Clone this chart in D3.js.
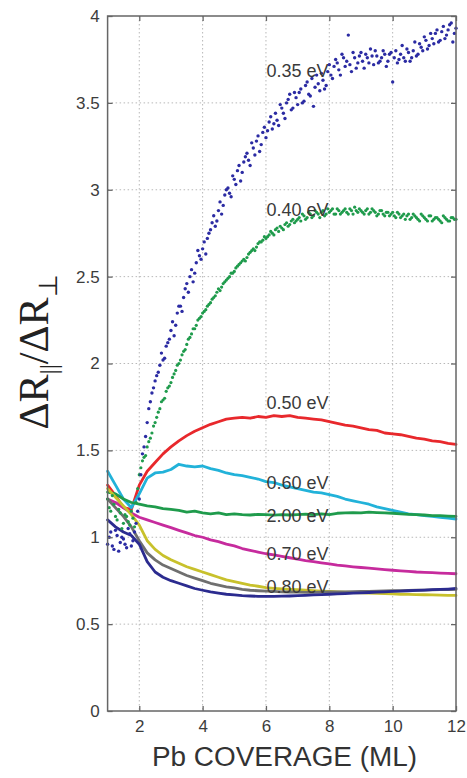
<!DOCTYPE html>
<html>
<head>
<meta charset="utf-8">
<script src="https://cdn.jsdelivr.net/npm/d3@7/dist/d3.min.js"></script>
<style>
  html, body { margin: 0; padding: 0; background: #fff; }
  svg { display: block; }
</style>
</head>
<body>
<svg id="chart" width="467" height="778"></svg>
<script>
// ---------------- DATA ----------------
const xTicks = [2, 4, 6, 8, 10, 12];
const yTicks = [0, 0.5, 1, 1.5, 2, 2.5, 3, 3.5, 4];
const yTickLabels = ["0", "0.5", "1", "1.5", "2", "2.5", "3", "3.5", "4"];

// scatter series sampled every 0.1 ML from 1 to 12 (two interleaved sweeps)
const scatterCoverage = d3.range(111).map(i => +(1 + i * 0.1).toFixed(2));
const scatterCoverageB = d3.range(110).map(i => +(1.05 + i * 0.1).toFixed(2));
const s035 = [0.96,1.03,0.93,1.01,0.97,0.99,0.94,1.02,0.98,1.08,
  1.22,1.48,1.58,1.74,1.83,1.90,1.95,2.06,2.03,2.12,
  2.19,2.16,2.29,2.33,2.38,2.46,2.50,2.47,2.58,2.62,
  2.66,2.63,2.75,2.81,2.79,2.88,2.86,2.97,3.01,2.96,
  3.06,3.11,3.05,3.16,3.21,3.14,3.24,3.28,3.22,3.33,
  3.30,3.39,3.35,3.44,3.37,3.47,3.41,3.52,3.46,3.56,
  3.49,3.58,3.51,3.62,3.54,3.48,3.66,3.57,3.63,3.60,
  3.72,3.64,3.75,3.69,3.78,3.71,3.89,3.68,3.76,3.73,
  3.79,3.70,3.76,3.81,3.72,3.77,3.74,3.80,3.71,3.78,
  3.62,3.80,3.75,3.83,3.74,3.79,3.76,3.85,3.78,3.82,
  3.88,3.81,3.90,3.84,3.92,3.86,3.94,3.89,3.95,3.85,3.93];
const s035b = [1.00,0.95,1.04,0.92,1.00,0.96,1.05,0.95,1.03,1.15,
  1.36,1.52,1.66,1.78,1.86,1.93,1.99,2.02,2.10,2.14,
  2.24,2.22,2.33,2.30,2.43,2.41,2.54,2.52,2.65,2.60,
  2.70,2.72,2.77,2.85,2.82,2.93,2.91,3.00,2.98,3.08,
  3.03,3.14,3.10,3.19,3.17,3.27,3.20,3.31,3.26,3.36,
  3.34,3.42,3.38,3.40,3.49,3.44,3.50,3.55,3.47,3.53,
  3.56,3.50,3.60,3.55,3.64,3.59,3.61,3.67,3.58,3.68,
  3.66,3.71,3.73,3.66,3.76,3.74,3.72,3.79,3.70,3.77,
  3.74,3.78,3.73,3.77,3.80,3.73,3.76,3.78,3.74,3.79,
  3.76,3.73,3.78,3.76,3.81,3.74,3.80,3.77,3.84,3.80,
  3.86,3.83,3.87,3.90,3.85,3.91,3.87,3.92,3.96,3.90];
const s040 = [1.22,1.15,1.19,1.10,1.14,1.08,1.12,1.07,1.11,1.20,
  1.36,1.44,1.47,1.55,1.60,1.66,1.72,1.78,1.80,1.86,
  1.89,1.94,1.99,2.02,2.07,2.11,2.15,2.20,2.22,2.26,
  2.29,2.31,2.34,2.37,2.39,2.43,2.44,2.47,2.49,2.52,
  2.53,2.56,2.58,2.60,2.61,2.64,2.66,2.67,2.70,2.71,
  2.72,2.74,2.75,2.77,2.76,2.78,2.80,2.79,2.82,2.81,
  2.83,2.82,2.85,2.84,2.86,2.85,2.87,2.84,2.88,2.86,
  2.87,2.89,2.86,2.88,2.87,2.89,2.86,2.88,2.90,2.87,
  2.88,2.86,2.89,2.87,2.88,2.85,2.88,2.86,2.87,2.85,
  2.87,2.84,2.86,2.85,2.83,2.86,2.84,2.85,2.83,2.86,
  2.84,2.82,2.85,2.83,2.84,2.82,2.85,2.83,2.82,2.84,2.83];
const s040b = [1.17,1.24,1.12,1.16,1.05,1.13,1.09,1.15,1.06,1.28,
  1.40,1.46,1.52,1.57,1.64,1.69,1.74,1.79,1.84,1.87,
  1.92,1.96,2.00,2.05,2.08,2.14,2.17,2.20,2.25,2.27,
  2.30,2.33,2.35,2.38,2.41,2.42,2.46,2.48,2.50,2.52,
  2.55,2.57,2.59,2.59,2.63,2.65,2.65,2.69,2.70,2.73,
  2.73,2.76,2.74,2.78,2.79,2.77,2.81,2.80,2.83,2.82,
  2.84,2.86,2.83,2.87,2.84,2.88,2.86,2.87,2.85,2.89,
  2.88,2.86,2.89,2.86,2.88,2.87,2.89,2.86,2.88,2.89,
  2.87,2.88,2.86,2.89,2.87,2.86,2.88,2.85,2.87,2.86,
  2.85,2.87,2.84,2.86,2.85,2.83,2.86,2.84,2.82,2.85,
  2.83,2.85,2.82,2.84,2.83,2.81,2.84,2.82,2.84,2.83];

// line series sampled every 0.25 ML from 1 to 12
const lineCoverage = d3.range(45).map(i => 1 + i * 0.25);
const s050 = [1.30,1.24,1.17,1.16,1.30,1.38,1.43,1.48,1.52,1.555,1.585,1.61,1.63,1.65,1.665,1.68,1.685,1.69,1.685,1.695,1.69,1.70,1.695,1.70,1.69,1.685,1.68,1.675,1.665,1.655,1.645,1.64,1.63,1.62,1.615,1.60,1.595,1.59,1.58,1.57,1.565,1.555,1.55,1.54,1.535];
const s060 = [1.38,1.30,1.22,1.17,1.25,1.34,1.37,1.375,1.39,1.42,1.41,1.405,1.41,1.395,1.385,1.37,1.36,1.355,1.345,1.335,1.32,1.315,1.30,1.29,1.28,1.27,1.26,1.255,1.245,1.235,1.22,1.21,1.20,1.19,1.175,1.165,1.155,1.145,1.135,1.13,1.125,1.12,1.115,1.11,1.105];
const s200 = [1.26,1.25,1.22,1.20,1.19,1.18,1.175,1.165,1.16,1.155,1.145,1.15,1.14,1.135,1.14,1.13,1.135,1.13,1.128,1.132,1.13,1.127,1.13,1.128,1.13,1.133,1.13,1.135,1.13,1.138,1.14,1.142,1.14,1.145,1.142,1.14,1.138,1.135,1.132,1.13,1.128,1.125,1.124,1.122,1.12];
const s070 = [1.22,1.20,1.17,1.14,1.115,1.10,1.085,1.07,1.055,1.04,1.025,1.01,1.00,0.985,0.975,0.96,0.95,0.935,0.925,0.915,0.905,0.898,0.89,0.882,0.874,0.866,0.86,0.853,0.847,0.84,0.835,0.83,0.826,0.822,0.818,0.814,0.81,0.807,0.804,0.80,0.798,0.796,0.794,0.792,0.79];
const sYellow = [1.28,1.23,1.18,1.13,1.07,0.98,0.93,0.895,0.87,0.85,0.83,0.815,0.80,0.785,0.77,0.755,0.745,0.735,0.725,0.718,0.71,0.706,0.703,0.70,0.698,0.695,0.693,0.69,0.688,0.686,0.684,0.682,0.68,0.678,0.677,0.675,0.674,0.672,0.671,0.67,0.669,0.668,0.667,0.666,0.665];
const sGray = [1.22,1.17,1.12,1.06,0.98,0.91,0.87,0.84,0.82,0.80,0.78,0.765,0.75,0.735,0.725,0.715,0.708,0.70,0.695,0.692,0.69,0.688,0.686,0.685,0.684,0.683,0.683,0.684,0.685,0.685,0.686,0.687,0.688,0.689,0.69,0.691,0.692,0.693,0.694,0.695,0.696,0.697,0.698,0.699,0.70];
const s080 = [1.10,1.06,1.03,1.01,0.96,0.86,0.80,0.77,0.75,0.735,0.72,0.705,0.695,0.685,0.678,0.672,0.668,0.664,0.662,0.66,0.66,0.66,0.661,0.662,0.664,0.666,0.668,0.67,0.672,0.674,0.676,0.678,0.68,0.682,0.684,0.686,0.688,0.69,0.692,0.694,0.696,0.698,0.70,0.702,0.705];

const seriesLabels = ["0.35 eV", "0.40 eV", "0.50 eV", "0.60 eV", "2.00 eV", "0.70 eV", "0.80 eV"];
const labelY = [3.65, 2.85, 1.74, 1.28, 1.09, 0.87, 0.68];

// ---------------- CHART ----------------
const svg = d3.select("#chart");
const L = 107.6, R = 456, T = 16, B = 711;
const x = d3.scaleLinear().domain([1, 12]).range([L, R]);
const y = d3.scaleLinear().domain([0, 4]).range([B, T]);

const axisColor = "#666";
const font = "'Liberation Sans', Arial, sans-serif";

// grid
const grid = svg.append("g");
grid.selectAll("line.vg").data(xTicks.filter(d => d < 12)).enter().append("line")
  .attr("x1", d => x(d)).attr("x2", d => x(d)).attr("y1", T).attr("y2", B)
  .attr("stroke", "#b8b8b8").attr("stroke-width", 1).attr("stroke-dasharray", "1.5,2.5");
grid.selectAll("line.hg").data(yTicks.filter(d => d > 0 && d < 4)).enter().append("line")
  .attr("y1", d => y(d)).attr("y2", d => y(d)).attr("x1", L).attr("x2", R)
  .attr("stroke", "#b8b8b8").attr("stroke-width", 1).attr("stroke-dasharray", "1.5,2.5");

// line series
const lineGen = d3.line().x((d, i) => x(lineCoverage[i])).y(d => y(d));
const lines = [
  {v: s050, c: "#e8282c"},
  {v: s060, c: "#22b2d9"},
  {v: s200, c: "#1f9b4c"},
  {v: s070, c: "#c62b9d"},
  {v: sYellow, c: "#c8c12c"},
  {v: sGray, c: "#6f6f6f"},
  {v: s080, c: "#2b2b8f"}
];
lines.forEach(s => {
  svg.append("path").datum(s.v).attr("d", lineGen)
    .attr("fill", "none").attr("stroke", s.c).attr("stroke-width", 2.8)
    .attr("stroke-linejoin", "round").attr("stroke-linecap", "round");
});

// scatter series
const scat = [
  {v: s040, xs: scatterCoverage, c: "#1f9b4c", r: 1.6},
  {v: s040b, xs: scatterCoverageB, c: "#1f9b4c", r: 1.6},
  {v: s035, xs: scatterCoverage, c: "#2b2ba3", r: 1.7},
  {v: s035b, xs: scatterCoverageB, c: "#2b2ba3", r: 1.7}
];
scat.forEach(s => {
  svg.append("g").selectAll("circle").data(s.v).enter().append("circle")
    .attr("cx", (d, i) => x(s.xs[i])).attr("cy", d => y(d))
    .attr("r", s.r).attr("fill", s.c);
});

// frame
svg.append("rect").attr("x", L).attr("y", T).attr("width", R - L).attr("height", B - T)
  .attr("fill", "none").attr("stroke", axisColor).attr("stroke-width", 1.5);

// axes (inward ticks)
const xAxisB = d3.axisBottom(x).tickValues(xTicks).tickSizeInner(-5).tickSizeOuter(0).tickPadding(9);
const gxb = svg.append("g").attr("transform", `translate(0,${B})`).call(xAxisB);
const xAxisT = d3.axisTop(x).tickValues(xTicks).tickSizeInner(-5).tickSizeOuter(0).tickFormat("");
const gxt = svg.append("g").attr("transform", `translate(0,${T})`).call(xAxisT);
const yAxisL = d3.axisLeft(y).tickValues(yTicks).tickFormat((d, i) => yTickLabels[i]).tickSizeInner(-5).tickSizeOuter(0).tickPadding(8);
const gyl = svg.append("g").attr("transform", `translate(${L},0)`).call(yAxisL);
const yAxisR = d3.axisRight(y).tickValues(yTicks).tickSizeInner(-5).tickSizeOuter(0).tickFormat("");
const gyr = svg.append("g").attr("transform", `translate(${R},0)`).call(yAxisR);
[gxb, gxt, gyl, gyr].forEach(g => {
  g.select(".domain").remove();
  g.selectAll(".tick line").attr("stroke", axisColor).attr("stroke-width", 1.3);
  g.selectAll("text").attr("fill", "#3c3c3c").style("font-family", font).style("font-size", "17px");
});

// series labels
svg.append("g").selectAll("text").data(seriesLabels).enter().append("text")
  .attr("x", x(6) + 0.5).attr("y", (d, i) => y(labelY[i]))
  .attr("fill", "#3a3a3a").style("font-family", font).style("font-size", "18px")
  .text(d => d);

// x label
svg.append("text").attr("x", 284.5).attr("y", 766).attr("text-anchor", "middle")
  .attr("fill", "#333").style("font-family", font).style("font-size", "27px")
  .attr("textLength", 265).attr("lengthAdjust", "spacingAndGlyphs")
  .text("Pb COVERAGE (ML)");

// y label
const yl = svg.append("text").attr("transform", "translate(48,352) rotate(-90)")
  .attr("text-anchor", "middle").attr("fill", "#222")
  .style("font-family", "'Liberation Serif', 'Times New Roman', serif").style("font-size", "42px");
yl.append("tspan").text("ΔR");
yl.append("tspan").attr("dy", 9).style("font-size", "26px").text("||");
yl.append("tspan").attr("dy", -9).text("/ΔR");
yl.append("tspan").attr("dy", 9).style("font-size", "26px").text("⊥");
</script>
</body>
</html>
